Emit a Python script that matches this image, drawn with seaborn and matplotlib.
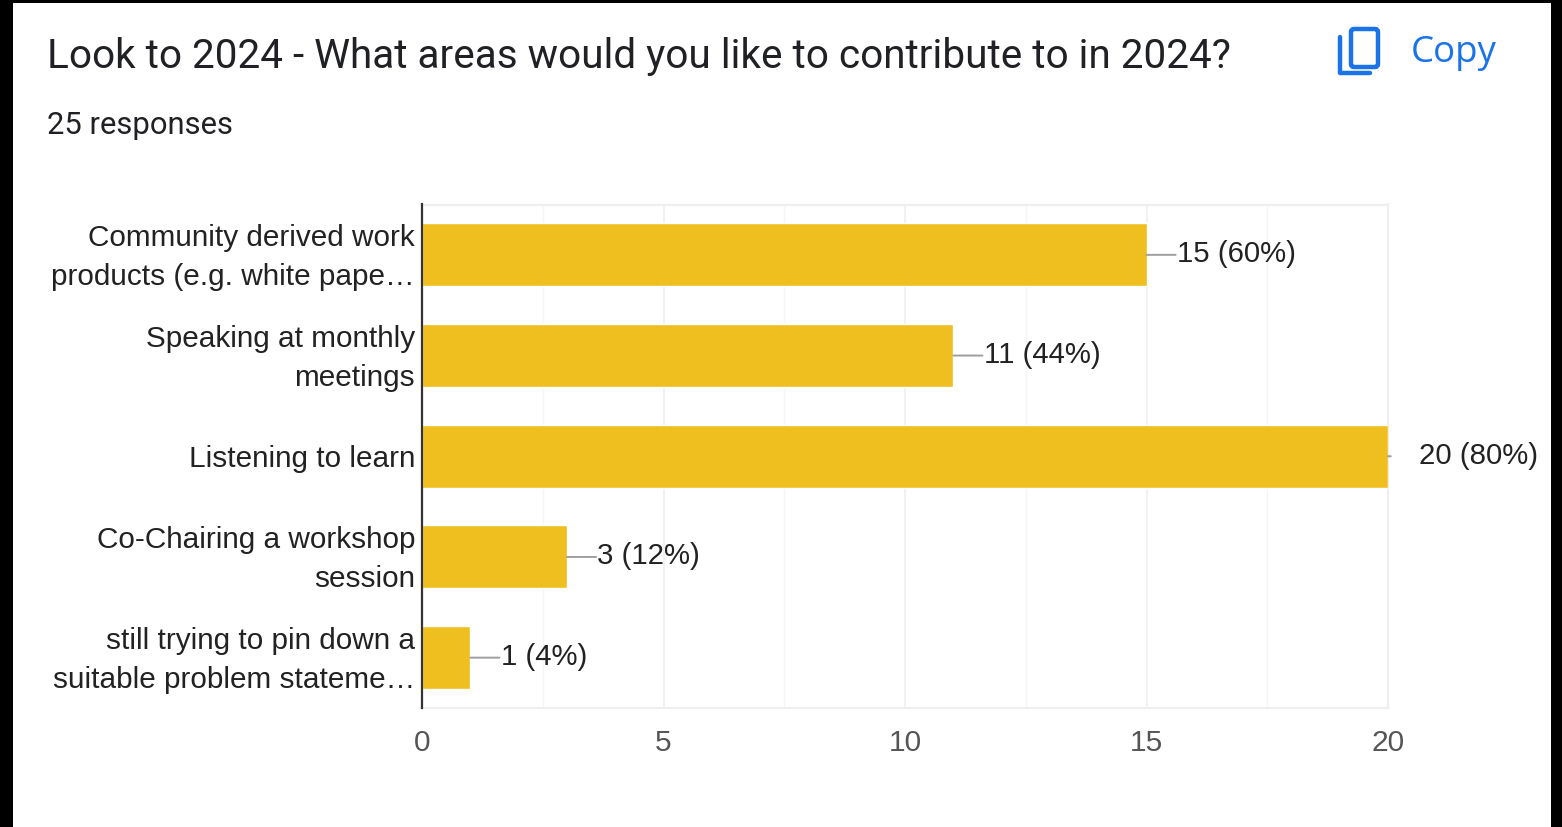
import matplotlib
matplotlib.use("Agg")
import matplotlib.pyplot as plt
from matplotlib.patches import FancyBboxPatch, Rectangle
from matplotlib.transforms import ScaledTranslation
import pandas as pd
import seaborn as sns

TITLE = "Look to 2024 - What areas would you like to contribute to in 2024?"
SUBTITLE = "25 responses"
COPY_LABEL = "Copy"

categories = [
    "Community derived work\nproducts (e.g. white pape…",
    "Speaking at monthly\nmeetings",
    "Listening to learn",
    "Co-Chairing a workshop\nsession",
    "still trying to pin down a\nsuitable problem stateme…",
]
counts = [15, 11, 20, 3, 1]
percents = [60, 44, 80, 12, 4]
major_ticks = [0, 5, 10, 15, 20]
minor_ticks = [2.5, 7.5, 12.5, 17.5]

W, H = 1562, 827
BAR_COLOR = "#EFBF1F"
BLUE = "#1A73E8"

sns.set_theme(style="white")
plt.rcParams["font.family"] = ["Liberation Sans", "DejaVu Sans"]

fig = plt.figure(figsize=(W / 100, H / 100), dpi=100, facecolor="black")

# White card inside the dark screenshot border; also a pixel canvas for the header
page = fig.add_axes([0, 0, 1, 1], zorder=0)
page.set_xlim(0, W)
page.set_ylim(H, 0)
page.axis("off")
page.add_patch(Rectangle((13, 3), 1538, 824, facecolor="white", edgecolor="none"))
page.text(47, 57, TITLE, family="Roboto", fontsize=29.2, color="#202124",
          va="center", ha="left")
page.text(47, 126, SUBTITLE, family="Roboto", fontsize=22.3, color="#202124",
          va="center", ha="left")
page.text(1411, 53, COPY_LABEL, family="Open Sans", fontsize=26.4, color=BLUE,
          va="center", ha="left")

# Copy icon: front sheet plus the L-shaped edge of the sheet behind it
page.add_patch(FancyBboxPatch((1351, 29), 27, 38, boxstyle="round,pad=0,rounding_size=3",
                              facecolor="none", edgecolor=BLUE, linewidth=3.2))
page.plot([1340, 1340, 1370], [37, 73, 73], color=BLUE, linewidth=3.2,
          solid_capstyle="round", solid_joinstyle="round")

# Chart axes
left, right, top, bottom = 422, 1388, 204.5, 708
ax = fig.add_axes([left / W, 1 - bottom / H, (right - left) / W, (bottom - top) / H],
                  zorder=1)
ax.patch.set_alpha(0)

data = pd.DataFrame({"area": categories, "count": counts})
sns.barplot(data=data, y="area", x="count", orient="h", color=BAR_COLOR, saturation=1,
            width=0.625, ax=ax, zorder=3)

ax.set_xlim(0, 20)
ax.set_ylim(4.5, -0.5)
ax.set_xlabel("")
ax.set_ylabel("")

ax.set_xticks(major_ticks)
ax.set_xticks(minor_ticks, minor=True)
ax.grid(True, axis="x", which="major", color="#EFEFEF", linewidth=1.2, zorder=0)
ax.grid(True, axis="x", which="minor", color="#F5F5F5", linewidth=1.0, zorder=0)
ax.tick_params(axis="x", which="both", length=0, pad=15, labelsize=21.5, labelcolor="#555555")
ax.tick_params(axis="y", length=0, pad=5, labelsize=21.4, labelcolor="#222222")

# Category labels sit slightly below the bar centres
nudge_down = ScaledTranslation(0, -2.5 / 100, fig.dpi_scale_trans)
for label in ax.get_yticklabels():
    label.set_linespacing(1.5)
    label.set_verticalalignment("center")
    label.set_transform(label.get_transform() + nudge_down)

for side in ("top", "right", "bottom"):
    ax.spines[side].set_color("#EFEFEF")
    ax.spines[side].set_linewidth(1.6)
ax.spines["left"].set_color("#333333")
ax.spines["left"].set_linewidth(1.6)
ax.spines["left"].set_zorder(5)

# Leader line and value label beside each bar
for i, (n, pct) in enumerate(zip(counts, percents)):
    leader = 21 if n < max(counts) else 2
    ax.annotate("", xy=(n, i), xytext=(leader, 0), textcoords="offset points",
                arrowprops=dict(arrowstyle="-", color="#9E9E9E", lw=1.4, shrinkA=0, shrinkB=0),
                annotation_clip=False)
    ax.annotate(f"{n} ({pct}%)", xy=(n, i), xytext=(22, 0.5), textcoords="offset points",
                va="center", ha="left", fontsize=21.2, color="#222222",
                annotation_clip=False)

fig.savefig("out.png", dpi=100, facecolor=fig.get_facecolor())
